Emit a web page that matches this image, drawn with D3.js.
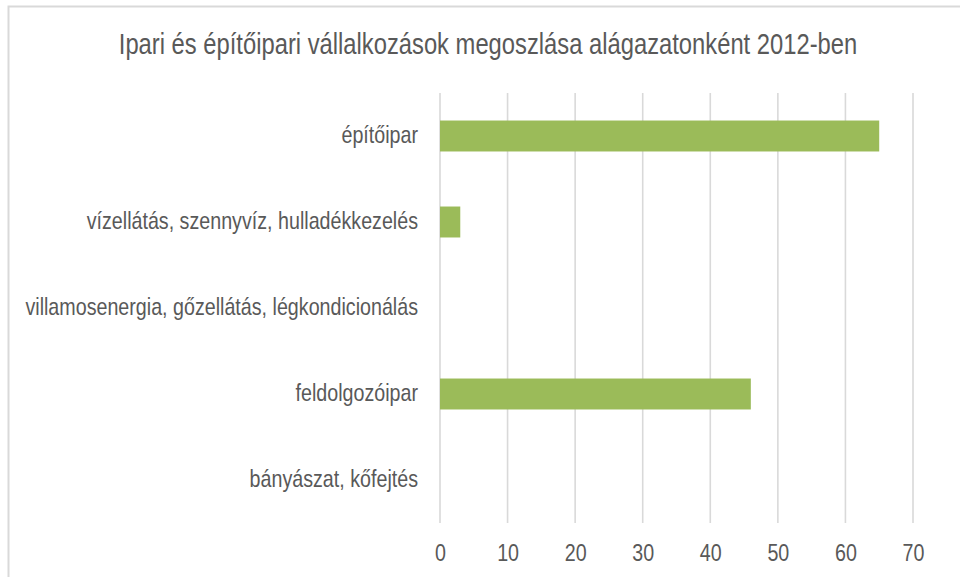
<!DOCTYPE html>
<meta charset="utf-8">
<script src="https://cdn.jsdelivr.net/npm/d3@7"></script>
<style>
  body { margin: 0; background: #fff; }
  text { font-family: "Liberation Sans Narrow", "Arial Narrow", "Liberation Sans", Arial, sans-serif; fill: #595959; }
</style>
<svg id="graph" width="960" height="577"></svg>
<script>

var title = "Ipari és építőipari vállalkozások megoszlása alágazatonként 2012-ben";

// top to bottom as drawn
var categories = [
  "építőipar",
  "vízellátás, szennyvíz, hulladékkezelés",
  "villamosenergia, gőzellátás, légkondicionálás",
  "feldolgozóipar",
  "bányászat, kőfejtés"
];
var values = [65, 3, 0, 46, 0];
var xTicks = [0, 10, 20, 30, 40, 50, 60, 70];

// no narrow font installed, so squeeze the regular one
var squeeze = 0.82;

var svg = d3.select("#graph"),
    margin = {top: 93, right: 47, bottom: 54, left: 440},
    width = 960 - margin.left - margin.right,
    height = 577 - margin.top - margin.bottom;

// outer chart border (runs off the right and bottom of the picture)
svg.append("rect")
    .attr("x", 8.5).attr("y", 6.5)
    .attr("width", 1000).attr("height", 700)
    .attr("fill", "none")
    .attr("stroke", "#d9d9d9")
    .attr("stroke-width", 2);

svg.append("g")
    .attr("transform", "translate(488,53.5) scale(" + squeeze + ",1)")
  .append("text")
    .attr("text-anchor", "middle")
    .style("font-size", "29px")
    .text(title);

var g = svg.append("g")
    .attr("transform", "translate(" + margin.left + "," + margin.top + ")");

var x = d3.scaleLinear().domain([0, 70]).range([0, 473]);
var y = d3.scaleBand().domain(categories).range([0, height]).paddingInner(0.64).paddingOuter(0.32);

// gridlines
g.selectAll(".grid")
  .data(xTicks)
  .enter().append("line")
    .attr("class", "grid")
    .attr("x1", function(d) { return x(d); })
    .attr("x2", function(d) { return x(d); })
    .attr("y1", 0)
    .attr("y2", height)
    .attr("stroke", "#d9d9d9")
    .attr("stroke-width", 1.6);

g.selectAll(".bar")
  .data(values)
  .enter().append("rect")
    .attr("class", "bar")
    .attr("x", x(0))
    .attr("y", function(d, i) { return y(categories[i]); })
    .attr("width", function(d) { return x(d) - x(0); })
    .attr("height", y.bandwidth())
    .attr("fill", "#9bbb59");

var xAxis = g.append("g")
    .attr("transform", "translate(0," + height + ")")
    .call(d3.axisBottom(x).tickValues(xTicks).tickSize(0).tickPadding(21));
xAxis.select(".domain").remove();
xAxis.selectAll("text")
    .style("font-size", "24px")
    .attr("fill", "#595959")
    .attr("transform", "scale(" + squeeze + ",1)");

var yAxis = g.append("g")
    .call(d3.axisLeft(y).tickSize(0));
yAxis.select(".domain").remove();
yAxis.selectAll("text")
    .style("font-size", "24px")
    .attr("fill", "#595959")
    .attr("x", -22 / squeeze)
    .attr("dy", "0.3em")
    .attr("transform", "scale(" + squeeze + ",1)");

</script>
